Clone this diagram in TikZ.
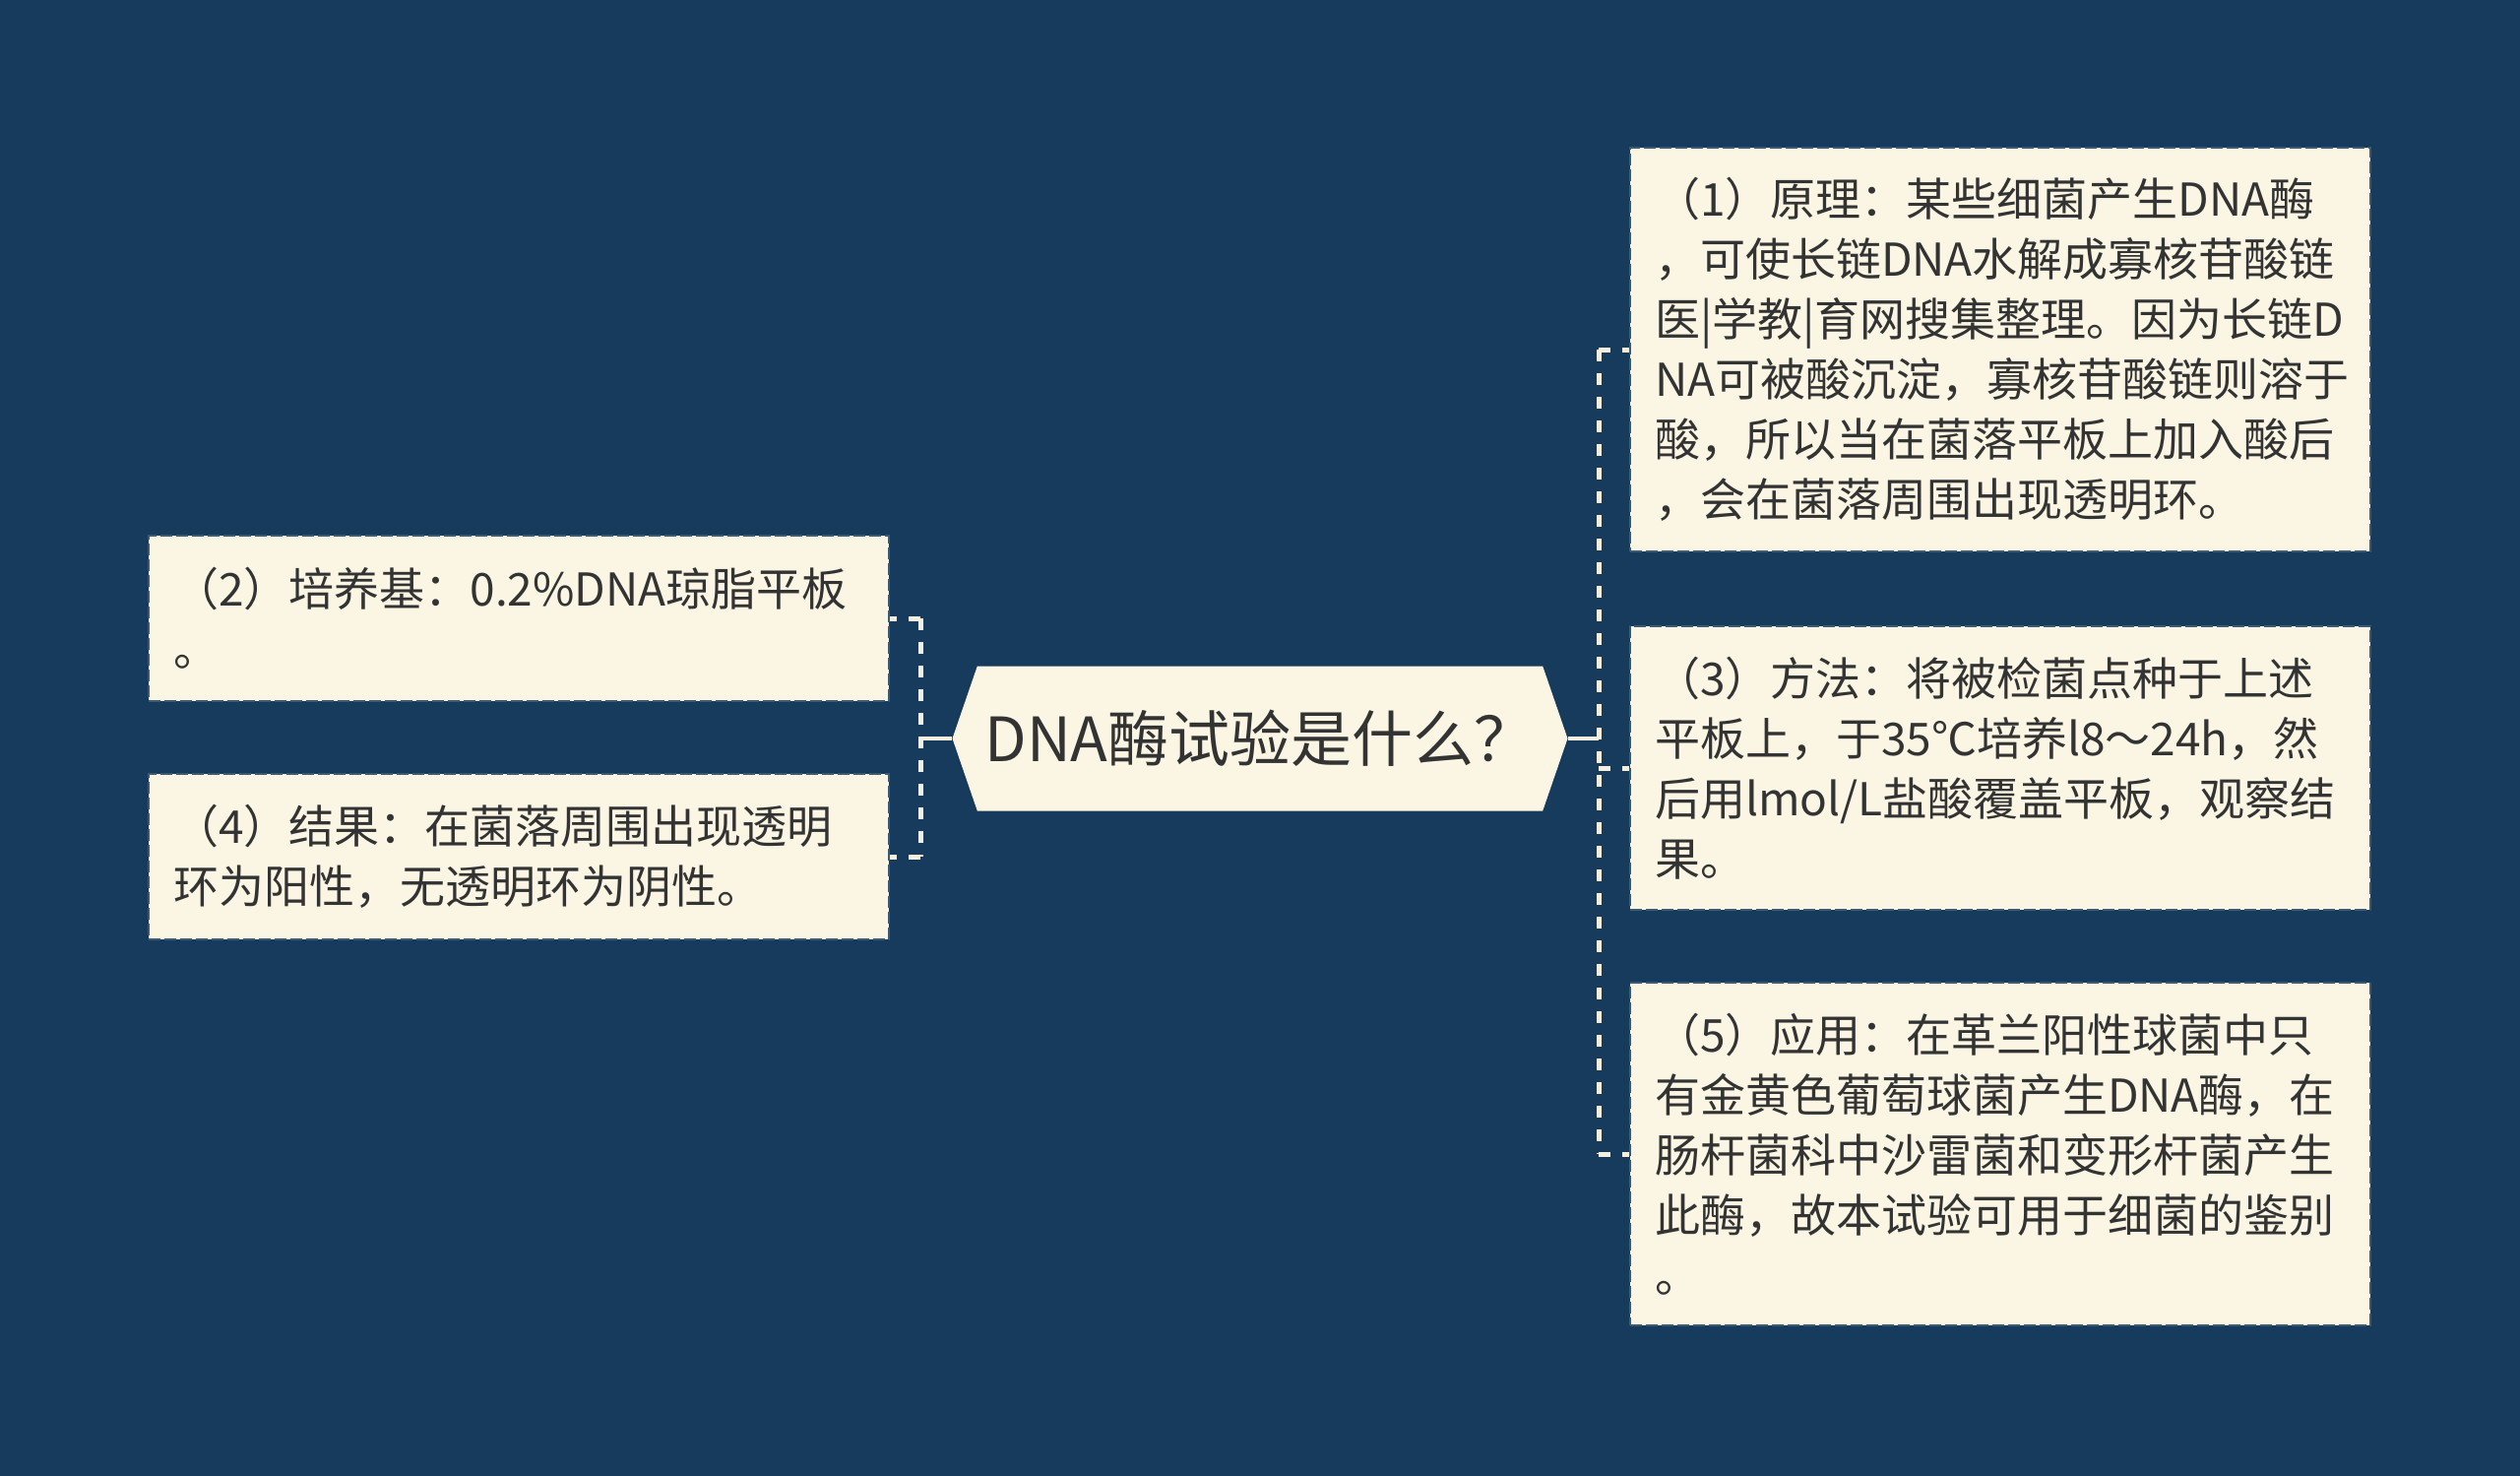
\documentclass[tikz,border=0pt]{standalone}
\usepackage{fontspec}
\setmainfont{Noto Sans CJK SC}
\usetikzlibrary{calc,shapes.symbols}
\definecolor{bg}{HTML}{173B5C}
\definecolor{cream}{HTML}{FAF6E3}
\definecolor{ink}{HTML}{333333}
\definecolor{edgec}{HTML}{3D5A75}
\definecolor{linkc}{HTML}{F4F0DF}
\begin{document}
\begin{tikzpicture}[x=0.5pt,y=-0.5pt,
  leaf/.style={draw=edgec, line width=1.2pt, dash pattern=on 6pt off 2pt, fill=cream, text=ink,
    minimum width=376pt, text width=351pt, inner xsep=12.5pt, align=left,
    font=\fontsize{23pt}{30.5pt}\selectfont},
  hub/.style={shape=signal, signal to=west and east, signal pointer angle=142,
    fill=cream, text=ink, minimum width=312.5pt, minimum height=73.5pt, inner sep=0pt,
    font=\fontsize{31pt}{36pt}\selectfont},
  solidlink/.style={draw=linkc, line width=2pt},
  dashlink/.style={draw=linkc, line width=2.5pt, dash pattern=on 6pt off 6pt}]
\fill[bg] (0,0) rectangle (2560,1499);
\useasboundingbox (0,0) rectangle (2560,1499);

\node[hub] (hub) at (1280,750) {DNA酶试验是什么？};

\node[leaf, minimum height=205pt] (b1) at (2032,355) {（1）原理：某些细菌产生DNA酶\\，可使长链DNA水解成寡核苷酸链\\医|学教|育网搜集整理。因为长链D\\NA可被酸沉淀，寡核苷酸链则溶于\\酸，所以当在菌落平板上加入酸后\\，会在菌落周围出现透明环。};
\node[leaf, minimum height=144pt] (b3) at (2032,780) {（3）方法：将被检菌点种于上述\\平板上，于35℃培养l8～24h，然\\后用lmol/L盐酸覆盖平板，观察结\\果。};
\node[leaf, minimum height=174pt] (b5) at (2032,1172) {（5）应用：在革兰阳性球菌中只\\有金黄色葡萄球菌产生DNA酶，在\\肠杆菌科中沙雷菌和变形杆菌产生\\此酶，故本试验可用于细菌的鉴别\\。};
\node[leaf, minimum height=84pt] (b2) at (527,628) {（2）培养基：0.2\%DNA琼脂平板\\。};
\node[leaf, minimum height=84pt] (b4) at (527,870) {（4）结果：在菌落周围出现透明\\环为阳性，无透明环为阴性。};

\coordinate (rj) at (1624,750);
\coordinate (lj) at (935,750);

\draw[solidlink] (hub.east) -- (rj);
\draw[dashlink] (rj |- b1.west) -- (rj |- b5.west);
\draw[dashlink] (rj |- b1.west) -- (b1.west);
\draw[dashlink] (rj |- b3.west) -- (b3.west);
\draw[dashlink] (rj |- b5.west) -- (b5.west);

\draw[solidlink] (hub.west) -- (lj);
\draw[dashlink] (lj |- b2.east) -- (lj |- b4.east);
\draw[dashlink] (lj |- b2.east) -- (b2.east);
\draw[dashlink] (lj |- b4.east) -- (b4.east);
\end{tikzpicture}
\end{document}
